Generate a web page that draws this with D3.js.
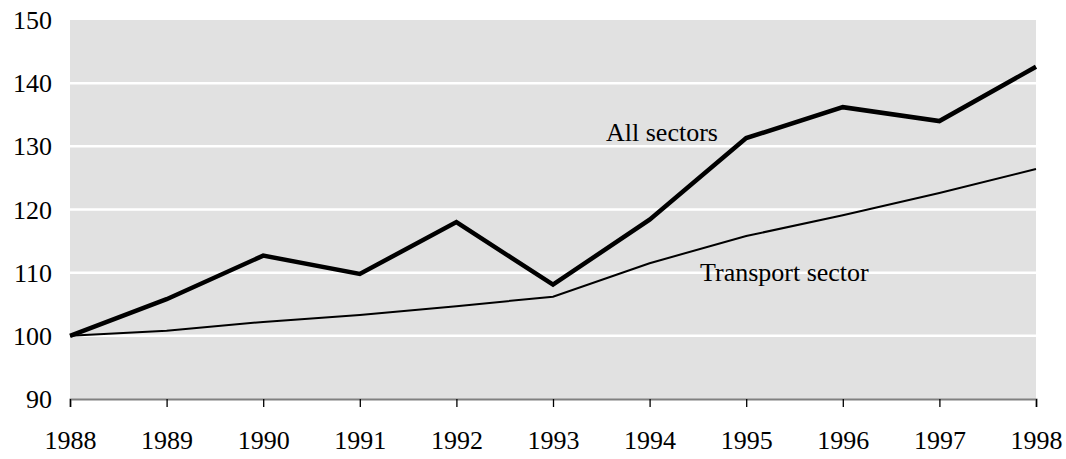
<!DOCTYPE html>
<html>
<head>
<meta charset="utf-8">
<script src="https://cdn.jsdelivr.net/npm/d3@7"></script>
<style>
  body { margin: 0; background: #fff; }
  text { font-family: "Liberation Serif", "Times New Roman", serif; fill: #000; }
</style>
</head>
<body>
<svg width="1066" height="459"></svg>
<script>
var years = [1988, 1989, 1990, 1991, 1992, 1993, 1994, 1995, 1996, 1997, 1998];
var allSectors = [100, 105.8, 112.7, 109.8, 118.0, 108.1, 118.4, 131.3, 136.2, 134.0, 142.6];
var transport = [100, 100.8, 102.2, 103.3, 104.7, 106.2, 111.5, 115.8, 119.1, 122.6, 126.4];
var yTicks = [90, 100, 110, 120, 130, 140, 150];

var svg = d3.select("svg"),
  plotLeft = 70, plotRight = 1036, plotTop = 20, plotBottom = 399;

var x = d3.scaleLinear().domain([1988, 1998]).range([plotLeft, plotRight]);
var y = d3.scaleLinear().domain([90, 150]).range([plotBottom, plotTop]);

svg.append("rect")
  .attr("x", plotLeft).attr("y", plotTop)
  .attr("width", plotRight - plotLeft).attr("height", plotBottom - plotTop)
  .attr("fill", "#e1e1e1");

svg.append("g")
  .selectAll("line")
  .data(yTicks.filter(function (d) { return d > 90 && d < 150; }))
  .enter()
  .append("line")
  .attr("x1", plotLeft).attr("x2", plotRight)
  .attr("y1", function (d) { return y(d); })
  .attr("y2", function (d) { return y(d); })
  .attr("stroke", "#fff")
  .attr("stroke-width", 2.5);

// y labels
svg.append("g")
  .selectAll("text")
  .data(yTicks)
  .enter()
  .append("text")
  .attr("x", 52)
  .attr("y", function (d) { return y(d); })
  .attr("dy", "0.35em")
  .attr("text-anchor", "end")
  .style("font-size", "26px")
  .text(function (d) { return d; });

// x axis
var xAxis = d3.axisBottom(x)
  .tickValues(years)
  .tickFormat(d3.format("d"))
  .tickSize(8)
  .tickPadding(24);

var gx = svg.append("g")
  .attr("transform", "translate(0," + plotBottom + ")")
  .call(xAxis);
gx.select(".domain").attr("stroke", "#808080").attr("stroke-width", 2);
gx.selectAll(".tick line").attr("stroke", "#000").attr("stroke-width", 1.3);
gx.selectAll(".tick text")
  .style("font-size", "26px")
  .style("font-family", "'Liberation Serif', 'Times New Roman', serif")
  .attr("fill", "#000");

var line = d3.line()
  .x(function (d, i) { return x(years[i]); })
  .y(function (d) { return y(d); });

svg.append("path")
  .datum(transport)
  .attr("d", line)
  .attr("fill", "none")
  .attr("stroke", "#000")
  .attr("stroke-width", 2);

svg.append("path")
  .datum(allSectors)
  .attr("d", line)
  .attr("fill", "none")
  .attr("stroke", "#000")
  .attr("stroke-width", 4.5)
  .attr("stroke-linejoin", "miter");

svg.append("text")
  .attr("x", 606).attr("y", 141)
  .style("font-size", "26px")
  .text("All sectors");

svg.append("text")
  .attr("x", 700).attr("y", 281)
  .style("font-size", "26px")
  .text("Transport sector");
</script>
</body>
</html>
